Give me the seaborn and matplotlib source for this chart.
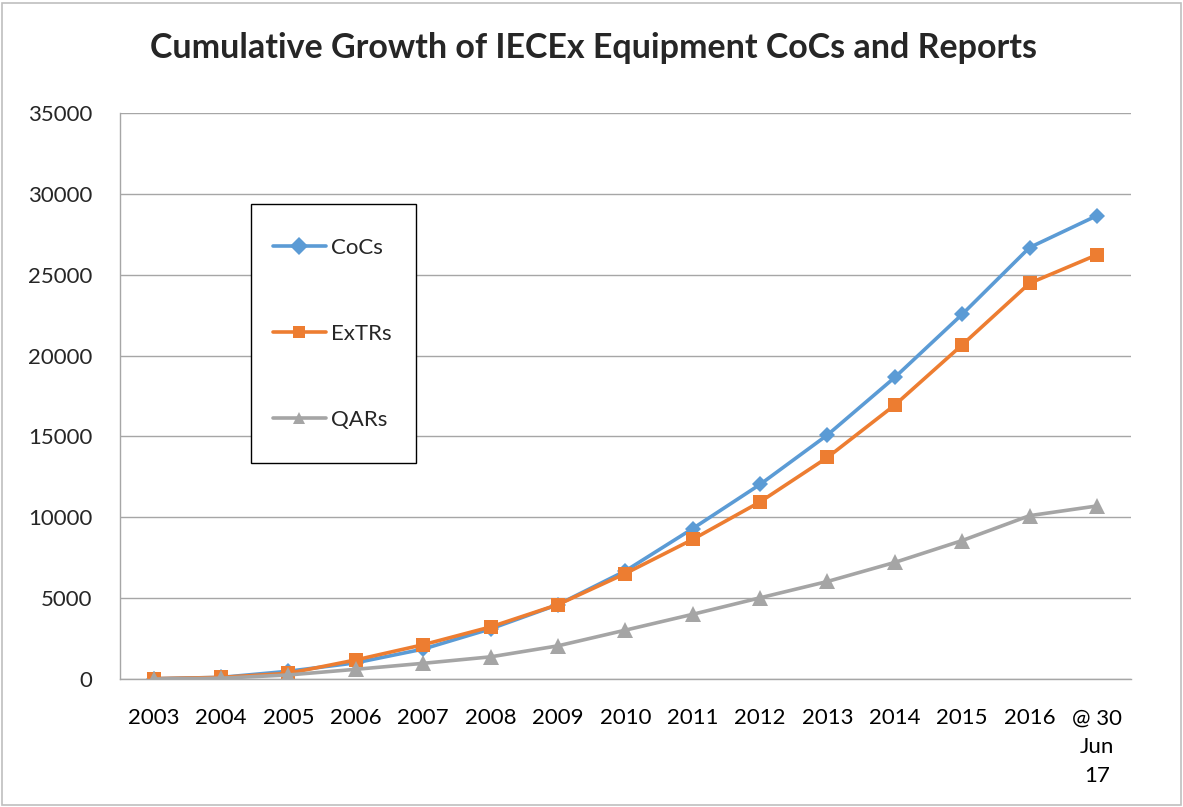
import pandas as pd
import matplotlib.pyplot as plt
import seaborn as sns
from matplotlib.patches import Rectangle

sns.set_theme(style='white')
plt.rcParams['font.family'] = ['Lato', 'DejaVu Sans']

years = ['2003', '2004', '2005', '2006', '2007', '2008', '2009', '2010',
         '2011', '2012', '2013', '2014', '2015', '2016', '@ 30\nJun\n17']
cocs = [20, 100, 480, 1000, 1850, 3100, 4600, 6680,
        9300, 12030, 15090, 18650, 22550, 26680, 28650]
extrs = [20, 100, 350, 1180, 2120, 3220, 4600, 6520,
         8630, 10950, 13700, 16940, 20660, 24470, 26230]
qars = [0, 50, 250, 600, 970, 1370, 2050, 3020,
        4000, 5020, 6030, 7210, 8560, 10100, 10700]

series_names = ['CoCs', 'ExTRs', 'QARs']
colors = ['#5B9BD5', '#ED7D31', '#A5A5A5']
markers = ['D', 's', '^']

data = pd.DataFrame({'Year': years, 'CoCs': cocs, 'ExTRs': extrs, 'QARs': qars})
data['pos'] = range(len(years))
long = data.melt(id_vars=['Year', 'pos'], value_vars=series_names,
                 var_name='Series', value_name='Count')

fig = plt.figure(figsize=(11.83, 8.07), dpi=100)
ax = fig.add_axes([0.1014, 0.1586, 0.8543, 0.7014])

sns.lineplot(data=long, x='pos', y='Count', hue='Series', style='Series',
             hue_order=series_names, style_order=series_names,
             palette=colors, markers=markers, dashes=False,
             linewidth=2.6, markersize=9, markeredgewidth=0, ax=ax)
# bigger markers for square / triangle
for line, ms in zip(ax.lines, [8.5, 9.5, 11]):
    line.set_markersize(ms)

ax.set_xlim(-0.5, len(years) - 0.5)
ax.set_ylim(0, 35000)
ax.set_yticks(range(0, 35001, 5000))
ax.set_xticks(range(len(years)))
ax.set_xticklabels(years, fontsize=16, linespacing=1.55, va='top')
ax.set_xticks([i - 0.5 for i in range(len(years) + 1)], minor=True)
ax.tick_params(axis='x', which='major', length=0, pad=21, colors='black')
ax.tick_params(axis='x', which='minor', length=8, width=1, color='#a6a6a6', direction='out')
ax.tick_params(axis='y', length=6, width=1, color='#a6a6a6', labelsize=16, pad=14, direction='out')
ax.grid(axis='y', color='#a6a6a6', linewidth=1)
ax.set_axisbelow(True)
for side in ['top', 'right']:
    ax.spines[side].set_visible(False)
for side in ['left', 'bottom']:
    ax.spines[side].set_color('#a6a6a6')
    ax.spines[side].set_linewidth(1)
ax.set_xlabel('')
ax.set_ylabel('')

# legend content without frame, box drawn separately
leg = ax.legend(loc='upper left', bbox_to_anchor=(0.151, 0.779), fontsize=16,
                frameon=False, labelspacing=2.96, handlelength=2.4,
                handletextpad=0.25, borderpad=0, borderaxespad=0)
for h in leg.legend_handles:
    h.set_linewidth(2.6)
ax.add_patch(Rectangle((0.1296, 0.3816), 0.1632, 0.4574, transform=ax.transAxes,
                       fill=True, facecolor='white', edgecolor='black',
                       linewidth=1, zorder=4))
leg.set_zorder(5)

fig.text(0.502, 0.9405, 'Cumulative Growth of IECEx Equipment CoCs and Reports',
         fontsize=24.5, fontweight='bold', ha='center', va='center')

fig.patches.append(Rectangle((0.002, 0.002), 0.996, 0.994, transform=fig.transFigure,
                             fill=False, edgecolor='#bfbfbf', linewidth=1.2))

plt.savefig('out.png', dpi=100)
